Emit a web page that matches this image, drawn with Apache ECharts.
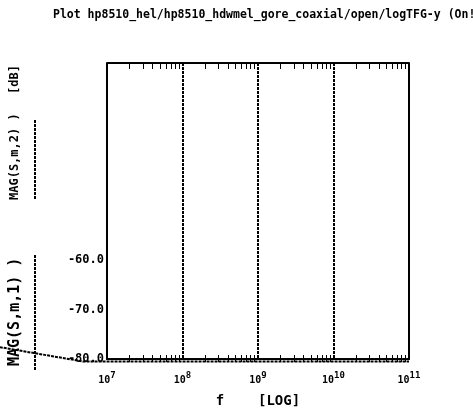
<!DOCTYPE html>
<html><head><meta charset="utf-8">
<script src="https://cdn.jsdelivr.net/npm/echarts@6/dist/echarts.min.js"></script>
<style>html,body{margin:0;padding:0;background:#fff}#c{width:473px;height:410px}</style>
</head><body><div id="c"></div>
<script>
// Data
var freq = [3.8e5, 4.8e6, 1e11];
var magS21 = [-77.6, -80.5, -80.5];
var yLabelShown = [-80, -70, -60];
var minorTicks = [];
for (var e = 7; e < 11; e++) for (var m = 2; m <= 9; m++) minorTicks.push(m * Math.pow(10, e));

var FONT = 'DejaVu Sans Mono';
var dash = {color: '#000', width: 2, type: [3, 1]};
// layout of the plot box
var GL = 107, GR = 64, GT = 63, GB = 51, W = 473;
var decadePx = (W - GL - GR) / 4;
var extMinExp = 7 - GL / decadePx; // second (hidden) grid reaching to the page's left edge

var chart = echarts.init(document.getElementById('c'), null, {renderer: 'canvas'});
chart.setOption({
  animation: false,
  backgroundColor: '#fff',
  title: {
    text: 'Plot hp8510_hel/hp8510_hdwmel_gore_coaxial/open/logTFG-y (On!',
    left: 48, top: 4,
    textStyle: {fontFamily: FONT, fontSize: 11.5, fontWeight: 'bold', color: '#000'}
  },
  grid: [
    {left: GL, top: GT, right: GR, bottom: GB, containLabel: false, outerBoundsMode: 'none'},
    {left: 0, top: GT, right: GR, bottom: GB, containLabel: false, outerBoundsMode: 'none'}
  ],
  xAxis: [{
    type: 'log', logBase: 10, min: 1e7, max: 1e11, position: 'bottom', gridIndex: 0,
    axisLine: {show: true, lineStyle: dash},
    axisTick: {show: false},
    splitLine: {show: true, lineStyle: dash},
    axisLabel: {
      margin: 12, color: '#000',
      formatter: function (v) { var ex = Math.round(Math.log10(v)); return '{b|10}{s|' + ex + '}'; },
      rich: {
        b: {fontFamily: FONT, fontSize: 10, fontWeight: 'bold', color: '#000'},
        s: {fontFamily: FONT, fontSize: 9, fontWeight: 'bold', color: '#000', verticalAlign: 'bottom', padding: [0, 0, 9, 0]}
      }
    },
    name: 'f    [LOG]', nameLocation: 'middle', nameGap: 35,
    nameTextStyle: {fontFamily: FONT, fontSize: 14, fontWeight: 'bold', color: '#000'}
  }, {
    type: 'log', logBase: 10, min: 1e7, max: 1e11, position: 'bottom', gridIndex: 0, offset: 3,
    axisLine: {show: false},
    axisTick: {show: true, inside: true, length: 7, customValues: minorTicks, lineStyle: {color: '#000', width: 1}},
    axisLabel: {show: false}, splitLine: {show: false}
  }, {
    type: 'log', logBase: 10, min: 1e7, max: 1e11, position: 'top', gridIndex: 0,
    axisLine: {show: true, lineStyle: dash},
    axisTick: {show: true, inside: true, length: 6, customValues: minorTicks, lineStyle: {color: '#000', width: 1}},
    axisLabel: {show: false}, splitLine: {show: false}
  }, {
    type: 'log', logBase: 10, min: Math.pow(10, extMinExp), max: 1e11, gridIndex: 1, show: false
  }],
  yAxis: [{
    type: 'value', min: -80, max: -20, interval: 10, position: 'left', gridIndex: 0,
    axisLine: {show: true, lineStyle: dash},
    axisTick: {show: false},
    splitLine: {show: false},
    axisLabel: {
      margin: 3, color: '#000',
      fontFamily: FONT, fontSize: 12, fontWeight: 'bold',
      formatter: function (v) { return yLabelShown.indexOf(v) >= 0 ? v.toFixed(1) : ''; }
    }
  }, {
    type: 'value', min: -80, max: -20, interval: 10, position: 'right', gridIndex: 0,
    axisLine: {show: true, lineStyle: dash},
    axisTick: {show: false}, axisLabel: {show: false}, splitLine: {show: false}
  }, {
    type: 'value', min: -80, max: -20, gridIndex: 1, show: false
  }],
  graphic: [
    {type: 'text', x: 9, y: 94, rotation: Math.PI / 2,
     style: {text: '[dB]', fontFamily: FONT, fontSize: 12, fontWeight: 'bold', fill: '#000'}},
    {type: 'text', x: 9, y: 200, rotation: Math.PI / 2,
     style: {text: 'MAG(S,m,2) )', fontFamily: FONT, fontSize: 12, fontWeight: 'bold', fill: '#000'}},
    {type: 'line', shape: {x1: 35, y1: 120, x2: 35, y2: 200}, style: {stroke: '#000', lineWidth: 2, lineDash: [3, 1]}},
    {type: 'text', x: 8, y: 366, rotation: Math.PI / 2,
     style: {text: 'MAG(S,m,1) )', fontFamily: FONT, fontSize: 15, fontWeight: 'bold', fill: '#000'}},
    {type: 'line', shape: {x1: 35, y1: 255, x2: 35, y2: 370}, style: {stroke: '#000', lineWidth: 2, lineDash: [3, 1]}}
  ],
  series: [{
    type: 'line', xAxisIndex: 3, yAxisIndex: 2,
    data: freq.map(function (f, i) { return [f, magS21[i]]; }),
    showSymbol: false, clip: false,
    lineStyle: {color: '#000', width: 2, type: [3, 1]}
  }]
});
</script></body></html>
